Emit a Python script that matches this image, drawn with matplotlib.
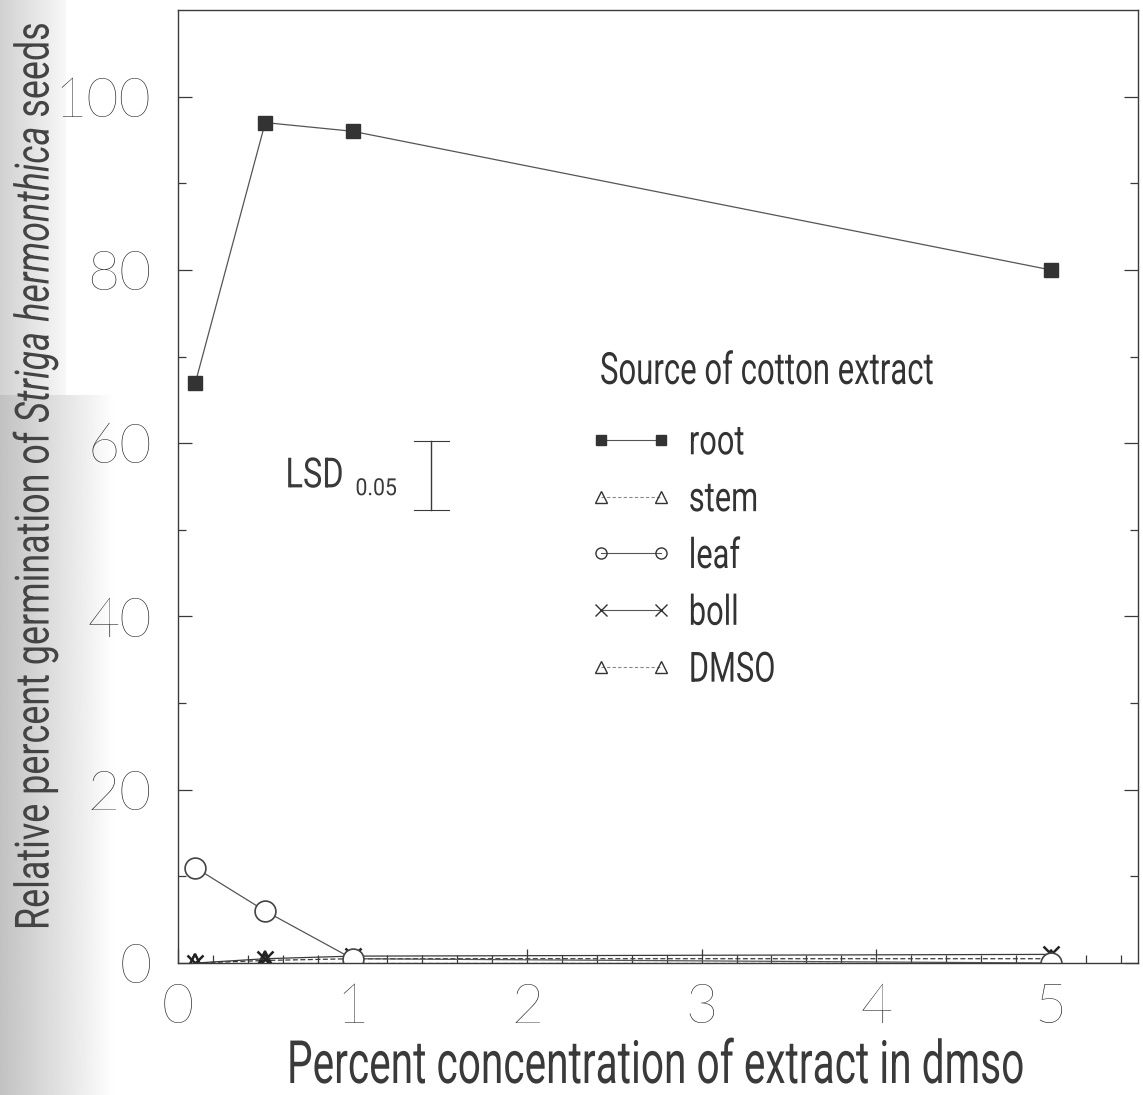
import numpy as np
import matplotlib.pyplot as plt
from matplotlib.lines import Line2D
from matplotlib.patheffects import AbstractPathEffect
from matplotlib.transforms import Affine2D

# concentration of extract in dmso (%)
conc = [0.1, 0.5, 1, 5]

# relative germination (%) for each extract source
root = [67, 97, 96, 80]
stem = [0, 0.3, 0.5, 0.5]
leaf = [11, 6, 0.5, 0]
boll = [0, 0.5, 0.8, 1.0]
dmso = [0, 0, 0, 0]

lsd_x = 1.45
lsd_lo, lsd_hi = 52.3, 60.2


class Squeeze(AbstractPathEffect):
    """Draw text glyphs narrower (poor man's condensed face)."""
    def __init__(self, sx):
        super().__init__()
        self.sx = sx

    def draw_path(self, renderer, gc, tpath, affine, rgbFace=None):
        renderer.draw_path(gc, tpath, Affine2D().scale(self.sx, 1) + affine, rgbFace)


plt.rcParams['font.family'] = ['Roboto', 'DejaVu Sans']
plt.rcParams['mathtext.fontset'] = 'custom'
plt.rcParams['mathtext.rm'] = 'Roboto'
plt.rcParams['mathtext.it'] = 'Roboto:italic'

ink = '#3a3a3a'
W, H = 1143, 1095

fig = plt.figure(figsize=(W / 100, H / 100), dpi=100)

# scanner shadow along the left edge
bg = fig.add_axes([0, 0, 0.1, 1 - 395 / H], zorder=-5)
bg.imshow(np.linspace(0.76, 1.0, 256)[None, :], cmap='gray', vmin=0, vmax=1,
          aspect='auto', extent=[0, 1, 0, 1])
bg.axis('off')
bg2 = fig.add_axes([0, 1 - 395 / H, 0.057, 395 / H], zorder=-5)
bg2.imshow(np.linspace(0.82, 0.97, 256)[None, :], cmap='gray', vmin=0, vmax=1,
           aspect='auto', extent=[0, 1, 0, 1])
bg2.axis('off')

ax = fig.add_axes([0.1557, 0.1205, 0.9956 - 0.1557, 0.9909 - 0.1205])
ax.patch.set_alpha(0)

lw = 0.9
ax.plot(conc, dmso, color=ink, lw=lw, ls=(0, (4, 2)), marker='^', ms=13,
        mfc='none', mec='#222222', mew=1.6)
ax.plot(conc, stem, color=ink, lw=lw, ls=(0, (4, 2)), marker='^', ms=13,
        mfc='none', mec='#222222', mew=1.6)
ax.plot(conc, boll, color=ink, lw=lw, marker='x', ms=12, mec='#222222', mew=1.8)
ax.plot(conc, leaf, color='#555555', lw=lw, marker='o', ms=15,
        mfc='white', mec='#444444', mew=1.2)
ax.plot(conc, root, color='#555555', lw=lw, marker='s', ms=10,
        mfc='#333333', mec='#333333')

# LSD bar
ax.plot([lsd_x, lsd_x], [lsd_lo, lsd_hi], color=ink, lw=1.0)
ax.plot([lsd_x - 0.1, lsd_x + 0.1], [lsd_lo, lsd_lo], color=ink, lw=0.8)
ax.plot([lsd_x - 0.1, lsd_x + 0.1], [lsd_hi, lsd_hi], color=ink, lw=0.8)
ax.text(0.616, 54.9, 'LSD', fontsize=30, color=ink, va='baseline',
        path_effects=[Squeeze(0.78)])
ax.text(1.017, 54.0, '0.05', fontsize=17, color=ink, va='baseline',
        path_effects=[Squeeze(0.9)])

ax.set_xlim(0, 5.5)
ax.set_ylim(0, 110)
ax.set_xticks([0, 1, 2, 3, 4, 5])
ax.set_xticks(np.arange(0, 5.6, 0.2), minor=True)
ax.set_yticks([0, 20, 40, 60, 80, 100])
ax.set_yticks(np.arange(0, 110, 10), minor=True)
ax.tick_params(which='both', direction='in', color=ink, right=True, width=0.9)
ax.tick_params(which='major', length=10)
ax.tick_params(which='minor', length=6)
ax.tick_params(axis='x', pad=14)
ax.tick_params(axis='y', pad=19)
for lab in ax.get_xticklabels() + ax.get_yticklabels():
    lab.set_fontfamily(['Lato', 'DejaVu Sans'])
    lab.set_fontweight('light')
    lab.set_fontsize(40)
    lab.set_color('#1e1e1e')
for s in ax.spines.values():
    s.set_color(ink)
    s.set_linewidth(1.0)

# axis titles, placed by hand so the narrow glyphs start where wanted
fig.text(287 / W, 1 - 1083 / H, 'Percent concentration of extract in dmso',
         fontsize=43, color='#3a3a3a', ha='left', va='baseline',
         path_effects=[Squeeze(0.68)])
fig.text(49 / W, 1 - 930 / H,
         r'Relative percent germination of $\it{Striga\ hermonthica}$ seeds',
         fontsize=34, color='#444444', rotation=90, rotation_mode='anchor',
         ha='left', va='baseline', path_effects=[Squeeze(0.76)])

# legend: title as its own text, entries through ax.legend
ax.text(0.4396, 0.6076, 'Source of cotton extract', transform=ax.transAxes,
        fontsize=32, color='#333333', va='baseline',
        path_effects=[Squeeze(0.7)])
handles = [
    Line2D([], [], color='#555555', lw=0.8, marker='s', ms=7, mfc='#333333', mec='#333333'),
    Line2D([], [], color='#888888', lw=0.8, ls=(0, (3, 2)), marker='^', ms=8, mfc='none', mec='#333333'),
    Line2D([], [], color='#555555', lw=0.8, marker='o', ms=8, mfc='none', mec='#333333'),
    Line2D([], [], color='#555555', lw=0.8, marker='x', ms=8, mec='#333333'),
    Line2D([], [], color='#888888', lw=0.8, ls=(0, (3, 2)), marker='^', ms=8, mfc='none', mec='#333333'),
]
leg = ax.legend(handles, ['root', 'stem', 'leaf', 'boll', 'DMSO'],
                frameon=False, fontsize=30, numpoints=2, handlelength=2.04,
                handletextpad=0.37, labelspacing=0.38, borderpad=0,
                loc='upper left', bbox_to_anchor=(0.4058, 0.5892),
                labelcolor='#333333')
for t in leg.get_texts():
    t.set_path_effects([Squeeze(0.74)])

fig.savefig('out.png', dpi=100)
